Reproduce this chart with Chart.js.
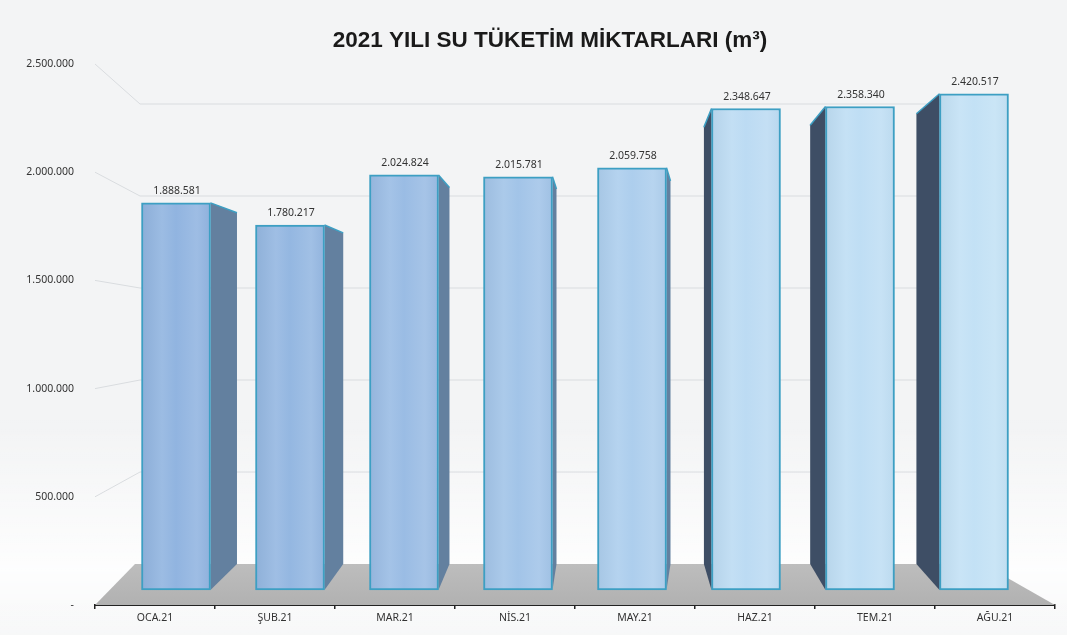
<!DOCTYPE html>
<html><head><meta charset="utf-8">
<script src="https://cdn.jsdelivr.net/npm/chart.js@4.4.1/dist/chart.umd.min.js"></script>
<style>html,body{margin:0;padding:0;background:#f3f4f5;}#wrap{width:1067px;height:635px;position:relative;}</style>
</head><body><div id="wrap"><canvas id="c" width="1067" height="635"></canvas></div>
<script>
const titleText = '2021 YILI SU TÜKETİM MİKTARLARI (m³)';
const categories = ['OCA.21','ŞUB.21','MAR.21','NİS.21','MAY.21','HAZ.21','TEM.21','AĞU.21'];
const values = [1888581,1780217,2024824,2015781,2059758,2348647,2358340,2420517];
const yTickValues = [0,500000,1000000,1500000,2000000,2500000];
const barColors = ['#91b4e0','#94b7e1','#9abce4','#a2c4e8','#adceed','#bcdbf3','#bfdef4','#c3e1f5'];

const fmt = v => v === 0 ? '-' : String(v).replace(/\B(?=(\d{3})+(?!\d))/g, '.');
const AREA_TOP = 64, AREA_BOTTOM = 605, AREA_LEFT = 95, AREA_RIGHT = 1055;
function plane(zeroPx, pxPerMillion){
  const min = -(AREA_BOTTOM - zeroPx) / pxPerMillion * 1e6;
  const max = min + (AREA_BOTTOM - AREA_TOP) / pxPerMillion * 1e6;
  return {min, max};
}
const frontPlane = plane(590, 205);
const backBarPlane = plane(564, 186);
const wallPlane = plane(564, 184);
const BAR_STEP = 114, FIRST_CENTER = 176;
const VP_X = 600, K = 0.068;

function hexShade(hex, f){
  const n = parseInt(hex.slice(1),16);
  let r=(n>>16)&255,g=(n>>8)&255,b=n&255;
  const m = c => Math.max(0,Math.min(255,Math.round(f>0? c+(255-c)*f : c*(1+f))));
  return `rgb(${m(r)},${m(g)},${m(b)})`;
}

const depthPlugin = {
  id: 'depth',
  beforeDraw(chart){
    const {ctx, width, height} = chart;
    ctx.save();
    const glow = ctx.createLinearGradient(0, 420, 0, height);
    glow.addColorStop(0,'rgba(255,255,255,0)');
    glow.addColorStop(0.7,'rgba(255,255,255,0.85)');
    glow.addColorStop(1,'rgba(255,255,255,0.35)');
    ctx.fillStyle = glow;
    ctx.fillRect(0, 420, width, height - 420);
    ctx.restore();
  },
  beforeDatasetsDraw(chart){
    const {ctx, chartArea:a, scales} = chart;
    const yv = scales.y, yw = scales.yw, yk = scales.yk;
    const meta = chart.getDatasetMeta(0);
    ctx.save();
    const by = yw.getPixelForValue(0), fy = yv.getPixelForValue(0);
    if (isFinite(by) && isFinite(fy)) {
      ctx.strokeStyle = '#d9dcdf'; ctx.lineWidth = 1;
      yTickValues.forEach(v => {
        if (v === 0) return;
        const y0 = yv.getPixelForValue(v), y1 = yw.getPixelForValue(v);
        ctx.beginPath(); ctx.moveTo(a.left, y0); ctx.lineTo(a.left+45, y1); ctx.lineTo(a.right-55, y1); ctx.stroke();
      });
      const fg = ctx.createLinearGradient(0, by, 0, fy);
      fg.addColorStop(0,'#bdbdbd'); fg.addColorStop(1,'#b1b1b1');
      ctx.fillStyle = fg;
      ctx.beginPath();
      ctx.moveTo(a.left, fy); ctx.lineTo(a.right, fy); ctx.lineTo(a.right-72, by); ctx.lineTo(a.left+40, by);
      ctx.closePath(); ctx.fill();
    }
    meta.data.forEach((bar, i) => {
      const {x, y, base, width} = bar.getProps(['x','y','base','width'], true);
      if (![x,y,base,width].every(isFinite)) return;
      const v = values[i];
      const rightSide = x < VP_X + 80;
      const ex = rightSide ? x + width/2 : x - width/2;
      let off = (VP_X - ex) * K;
      if (rightSide) off = Math.max(4, off); else off = Math.min(-4, off);
      const bx = ex + off;
      const ty = yk.getPixelForValue(v), bby = yk.getPixelForValue(0);
      ctx.fillStyle = rightSide ? '#63809f' : '#3e4e65';
      ctx.beginPath();
      ctx.moveTo(ex, y); ctx.lineTo(bx, ty); ctx.lineTo(bx, bby); ctx.lineTo(ex, base);
      ctx.closePath(); ctx.fill();
      ctx.strokeStyle = '#3d9fc3'; ctx.lineWidth = 1.5;
      ctx.beginPath(); ctx.moveTo(ex, y); ctx.lineTo(bx, ty); ctx.stroke();
    });
    ctx.restore();
  },
  afterDatasetsDraw(chart){
    const {ctx} = chart;
    const meta = chart.getDatasetMeta(0);
    ctx.save();
    ctx.font = '10.5px "Noto Sans", sans-serif';
    ctx.fillStyle = '#333';
    ctx.textAlign = 'center'; ctx.textBaseline = 'middle';
    meta.data.forEach((bar, i) => {
      const {x, y} = bar.getProps(['x','y'], true);
      if (isFinite(x) && isFinite(y)) ctx.fillText(fmt(values[i]), x + 1, y - 12);
    });
    ctx.restore();
  },
  afterDraw(chart){
    const {ctx} = chart;
    ctx.save();
    ctx.font = 'bold 22.5px "Liberation Sans", Arial, sans-serif';
    ctx.fillStyle = '#1a1a1a';
    ctx.textAlign = 'center'; ctx.textBaseline = 'middle';
    ctx.fillText(titleText, 550, 41);
    ctx.restore();
  }
};

new Chart(document.getElementById('c'), {
  type: 'bar',
  data: {
    labels: categories,
    datasets: [{
      data: values.map((v, i) => ({x: i, y: v})),
      xAxisID: 'xb', yAxisID: 'yb',
      backgroundColor: (c) => {
        const col = barColors[c.dataIndex] || barColors[0];
        const xs = c.chart.scales && c.chart.scales.xb;
        if (!xs || c.dataIndex === undefined) return col;
        const cx = xs.getPixelForValue(c.dataIndex);
        if (!isFinite(cx)) return col;
        const g = c.chart.ctx.createLinearGradient(cx-35, 0, cx+35, 0);
        g.addColorStop(0, hexShade(col,-0.04));
        g.addColorStop(0.3, hexShade(col,0.1));
        g.addColorStop(0.5, col);
        g.addColorStop(0.8, hexShade(col,0.12));
        g.addColorStop(1, hexShade(col,-0.02));
        return g;
      },
      borderColor: '#3d9fc3',
      borderWidth: 2,
      borderSkipped: false,
      barThickness: 69
    }]
  },
  options: {
    responsive: false,
    animation: false,
    events: [],
    layout: {padding: {left: 0, right: 12, top: AREA_TOP, bottom: 0}},
    plugins: {
      legend: {display: false},
      tooltip: {enabled: false},
      title: {display: false}
    },
    scales: {
      x: {
        type: 'category', position: 'bottom', offset: true,
        grid: {display: true, drawOnChartArea: false, drawTicks: true, tickLength: 4, offset: true, color: '#222', lineWidth: 1.5},
        border: {display: true, color: '#222', width: 2},
        ticks: {color: '#333', font: {family: '"Noto Sans", sans-serif', size: 10.5}, padding: 3, maxRotation: 0, autoSkip: false},
        afterFit: s => { s.height = 30; }
      },
      xb: {type: 'linear', display: false, offset: false, grace: 0, bounds: 'data',
           min: (AREA_LEFT - FIRST_CENTER)/BAR_STEP, max: (AREA_RIGHT - FIRST_CENTER)/BAR_STEP},
      y: {
        type: 'linear', position: 'left', min: 0, max: 2500000,
        grid: {display: false, drawTicks: false},
        border: {display: false},
        ticks: {color: '#333', font: {family: '"Noto Sans", sans-serif', size: 10.5}, padding: 21, callback: v => fmt(v)},
        afterBuildTicks: s => { s.ticks = yTickValues.map(v => ({value: v})); },
        afterFit: s => { s.width = AREA_LEFT; }
      },
      yb: {type: 'linear', display: false, min: frontPlane.min, max: frontPlane.max},
      yk: {type: 'linear', display: false, min: backBarPlane.min, max: backBarPlane.max},
      yw: {type: 'linear', display: false, min: wallPlane.min, max: wallPlane.max}
    }
  },
  plugins: [depthPlugin]
});
</script></body></html>
